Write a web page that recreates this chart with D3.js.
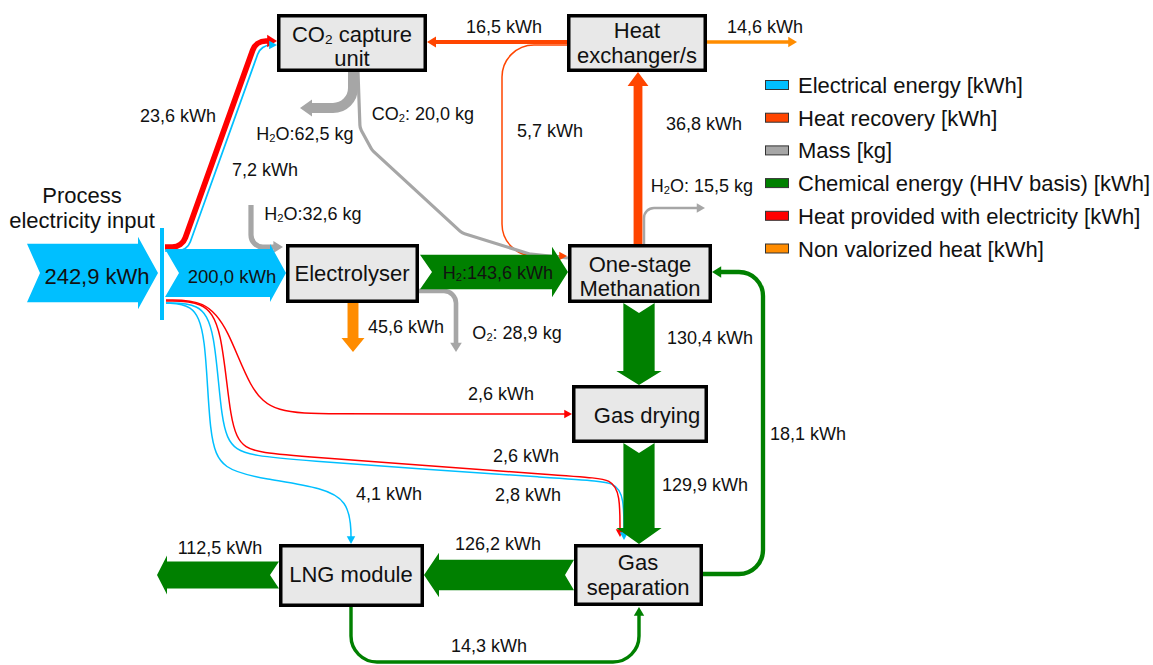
<!DOCTYPE html>
<html><head><meta charset="utf-8">
<script src="https://cdn.jsdelivr.net/npm/d3@7"></script>
<style>
body{margin:0;background:#fff}
svg{display:block}
text{font-family:"Liberation Sans",Arial,Helvetica,sans-serif;fill:#111}
</style>
</head><body>
<svg id="chart" width="1153" height="665"></svg>
<script>
// ---------------- DATA ----------------
const categories = ["Electrical energy [kWh]","Heat recovery [kWh]","Mass [kg]","Chemical energy (HHV basis) [kWh]","Heat provided with electricity [kWh]","Non valorized heat [kWh]"];
const units = ["CO₂ capture\nunit","Heat\nexchanger/s","Electrolyser","One-stage\nMethanation","Gas drying","Gas\nseparation","LNG module"];
const inputTitle = ["Process","electricity input"];
const flowIds = ["in","el","hco2","eco2","h2oCap","co2","h2oEl","h2","o2","elHeat","hr16","hr57","hr368","nv146","h2oMeth","ch130","hdry","rec181","hsep","esep","ch129","elng","ch126","ch112","rec143"];
const flowValues = [242.9,200.0,23.6,7.2,62.5,20.0,32.6,143.6,28.9,45.6,16.5,5.7,36.8,14.6,15.5,130.4,2.6,18.1,2.6,2.8,129.9,4.1,126.2,112.5,14.3];
const flowUnits = ["kWh","kWh","kWh","kWh","kg","kg","kg","kWh","kg","kWh","kWh","kWh","kWh","kWh","kg","kWh","kWh","kWh","kWh","kWh","kWh","kWh","kWh","kWh","kWh"];
const flowCategory = [0,0,4,0,2,2,2,3,2,5,1,1,1,5,2,3,4,3,4,0,3,0,3,3,3];
const flowPrefix = ["","","","","H₂O:","CO₂: ","H₂O:","H₂:","O₂: ","","","","","","H₂O: ","","","","","","","","","",""];

// ---------------- LAYOUT (geometry, not data) ----------------
const palette = ["#00bfff","#ff4500","#a6a6a6","#008000","#ff0000","#ff8c00"];
const boxes = [[277,14,150,58],[567,14,140,58],[286,244,133,59],[568,244,144,59],[572,385,136,58],[574,544,129,62],[279,544,145,63]];
const boxText = [[352,42,24],[637,38,25],[352,281,0],[640,272,24],[647,423,0],[638,570,25],[351,582,0]];
const geom = {
 in:{kind:"fat",from:[27,273],to:[158,273],notch:13,head:7,len:20,label:[97,284],fs:22},
 el:{kind:"fat",from:[165,273],to:[286,273],notch:14,head:5,len:16,label:[232,283],fs:18.5},
 hco2:{kind:"route",pts:[[165,247],[182,247],[256,41],[277,41]],r:14,label:[178,122]},
 eco2:{kind:"route",pts:[[165,251],[187,251],[261,45],[277,45]],r:14,label:[265,176]},
 h2oCap:{kind:"route",pts:[[353,72],[353,108],[300,108]],r:20,label:[305,140]},
 co2:{kind:"route",pts:[[358,72],[360,128],[372,150],[462,233],[530,254],[568,258]],r:12,noHead:true,label:[423,120]},
 h2oEl:{kind:"route",pts:[[251,205],[251,247],[283,247]],r:12,label:[313,220]},
 h2:{kind:"fat",from:[420,272],to:[568,272],notch:12,head:8,len:16,label:[498,279],fs:18},
 o2:{kind:"route",pts:[[419,291],[456,291],[456,352]],r:12,label:[517,339]},
 elHeat:{kind:"fat",from:[353,303],to:[353,352],notch:0,head:6,len:14,label:[406,333]},
 hr16:{kind:"route",pts:[[567,42],[427,42]],label:[504,33]},
 hr57:{kind:"route",pts:[[567,45],[502,45],[502,256],[567,256]],r:32,label:[550,137]},
 hr368:{kind:"fat",from:[638,244],to:[638,72],notch:0,head:6,len:14,label:[704,130]},
 nv146:{kind:"route",pts:[[707,42],[797,42]],label:[765,33]},
 h2oMeth:{kind:"route",pts:[[644,244],[644,208],[705,208]],r:10,label:[702,192]},
 ch130:{kind:"fat",from:[639,303],to:[639,385],notch:10,head:7,len:14,label:[710,344]},
 hdry:{kind:"curve",pts:[[166,300],[205,300],[228,328],[250,390],[275,413],[330,414],[450,414],[560,414],[572,414]],label:[501,400]},
 rec181:{kind:"route",pts:[[703,574],[763,574],[763,272],[712,272]],r:24,label:[808,440]},
 hsep:{kind:"curve",pts:[[166,301],[203,301],[222,325],[230,425],[243,450],[275,455],[585,477],[612,479],[620,495],[620,537]],label:[526,462]},
 esep:{kind:"curve",pts:[[166,303],[199,303],[215,327],[221,425],[233,452],[270,459],[585,480],[616,482],[624,498],[624,540]],label:[528,501]},
 ch129:{kind:"fat",from:[639,443],to:[639,544],notch:10,head:7,len:16,label:[705,491]},
 elng:{kind:"curve",pts:[[166,303],[192,304],[206,330],[209,440],[222,470],[265,479],[325,488],[347,502],[351,525],[351,544]],label:[389,500]},
 ch126:{kind:"fat",from:[574,575],to:[424,575],notch:9,head:7,len:15,label:[498,550]},
 ch112:{kind:"fat",from:[279,575],to:[157,575],notch:9,head:6,len:10,label:[220,554]},
 rec143:{kind:"route",pts:[[351,607],[351,662],[639,662],[639,607]],r:26,label:[489,652]}
};

// ---------------- SCALES ----------------
const color = d3.scaleOrdinal().domain(d3.range(categories.length)).range(palette);
const wKWh = d3.scaleLinear().domain([0,250]).range([0,60]);
const wKg = d3.scaleLinear().domain([0,100]).range([0,16]);
const widthOf = i => Math.max(1.5, (flowUnits[i]==="kg" ? wKg : wKWh)(flowValues[i]));
const fmt = v => d3.format(".1f")(v).replace(".", ",");

const svg = d3.select("#chart");
const gLines = svg.append("g"), gFat = svg.append("g"), gBox = svg.append("g"), gText = svg.append("g");

function richText(sel, str, fs){
  const parts = str.split("₂");
  parts.forEach((p,i)=>{
    if(i>0){
      sel.append("tspan").attr("font-size",fs*0.62).attr("dy",fs*0.1).text("2");
      sel.append("tspan").attr("dy",-fs*0.1).text(p);
    } else if(p) sel.append("tspan").text(p);
  });
}
function unit(a,b){const dx=b[0]-a[0],dy=b[1]-a[1],l=Math.hypot(dx,dy);return [dx/l,dy/l];}
function head(g, tip, u, w, col){
  const hl = 7+0.5*w, hw = 3.5+0.5*w;
  const bx = tip[0]-u[0]*hl, by = tip[1]-u[1]*hl;
  g.append("path").attr("fill",col)
   .attr("d",`M${tip[0]},${tip[1]}L${bx-u[1]*hw},${by+u[0]*hw}L${bx+u[1]*hw},${by-u[0]*hw}Z`);
  return hl;
}

flowIds.forEach((id,i)=>{
  const g = geom[id], w = widthOf(i), col = color(flowCategory[i]);
  if(g.kind==="route"){
    const pts = g.pts.map(p=>p.slice());
    const n = pts.length;
    const u = unit(pts[n-2], pts[n-1]);
    if(!g.noHead){
      const hl = head(gLines, pts[n-1], u, w, col);
      pts[n-1] = [pts[n-1][0]-u[0]*hl*0.8, pts[n-1][1]-u[1]*hl*0.8];
    }
    const p = d3.path();
    p.moveTo(pts[0][0],pts[0][1]);
    for(let k=1;k<n-1;k++) p.arcTo(pts[k][0],pts[k][1],pts[k+1][0],pts[k+1][1],g.r||0);
    p.lineTo(pts[n-1][0],pts[n-1][1]);
    gLines.insert("path",":first-child").attr("d",p.toString()).attr("fill","none").attr("stroke",col).attr("stroke-width",w);
  } else if(g.kind==="curve"){
    const pts = g.pts.map(p=>p.slice());
    const n = pts.length;
    const u = unit(pts[n-2], pts[n-1]);
    const hl = head(gLines, pts[n-1], u, w, col);
    pts[n-1] = [pts[n-1][0]-u[0]*hl*0.7, pts[n-1][1]-u[1]*hl*0.7];
    gLines.insert("path",":first-child").attr("d",d3.line().curve(d3.curveBasis)(pts)).attr("fill","none").attr("stroke",col).attr("stroke-width",w);
  } else {
    const s=g.from, t=g.to, u=unit(s,t), v=[-u[1],u[0]], h=w/2, e=g.head, L=g.len, nn=g.notch;
    const P=(a,b,c)=>[a[0]+u[0]*b+v[0]*c, a[1]+u[1]*b+v[1]*c];
    const pts=[P(s,0,h),P(s,nn,0),P(s,0,-h),P(t,-L,-h),P(t,-L,-h-e),t,P(t,-L,h+e),P(t,-L,h)];
    gFat.append("path").attr("fill",col).attr("d","M"+pts.map(p=>p.join(",")).join("L")+"Z");
  }
  const lab = gText.append("text").attr("x",g.label[0]).attr("y",g.label[1]).attr("text-anchor","middle").attr("font-size",g.fs||18);
  richText(lab, flowPrefix[i]+fmt(flowValues[i])+" "+flowUnits[i], g.fs||18);
});

// input bar
gBox.append("rect").attr("x",160).attr("y",228).attr("width",4).attr("height",92).attr("fill",palette[0]);
const t0 = gText.append("text").attr("text-anchor","middle").attr("font-size",22);
inputTitle.forEach((s,k)=>t0.append("tspan").attr("x",82).attr("y",203+k*25).text(s));

// boxes
units.forEach((name,i)=>{
  const [x,y,w,h]=boxes[i];
  gBox.append("rect").attr("x",x+1.75).attr("y",y+1.75).attr("width",w-3.5).attr("height",h-3.5)
    .attr("fill","#e8e8e8").attr("stroke","#000").attr("stroke-width",3.5);
  const [cx,by,lh]=boxText[i];
  name.split("\n").forEach((line,k)=>{
    const t=gText.append("text").attr("x",cx).attr("y",by+k*lh).attr("text-anchor","middle").attr("font-size",22);
    richText(t,line,22);
  });
});

// legend
const lg = svg.append("g");
categories.forEach((c,i)=>{
  const cy = 85+32.7*i;
  lg.append("rect").attr("x",765.5).attr("y",cy-4.5).attr("width",23).attr("height",9).attr("fill",color(i)).attr("stroke","#333").attr("stroke-width",1);
  lg.append("text").attr("x",798).attr("y",cy+8).attr("font-size",22).text(c);
});
</script>
</body></html>
